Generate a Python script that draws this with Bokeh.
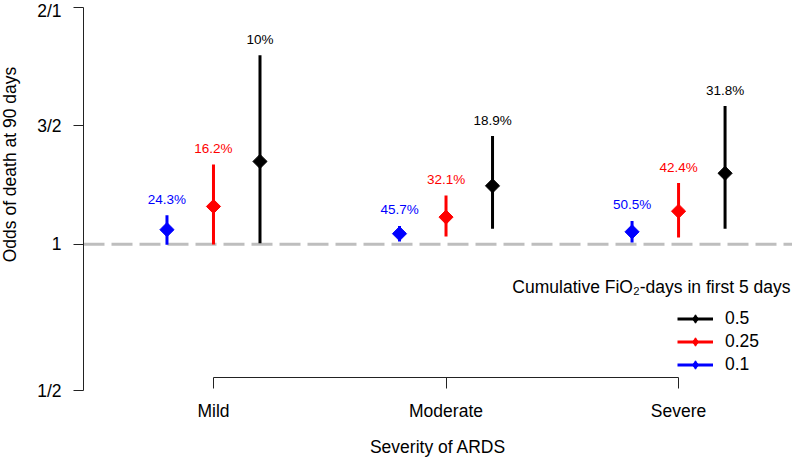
import numpy as np
from bokeh.plotting import figure
from bokeh.models import (Range1d, FixedTicker, Span, Label, Legend, LegendItem,
                          LinearAxis)
from bokeh.embed import file_html
from bokeh.resources import INLINE
from bokeh.core.properties import value

# ---- data ----
categories = ["Mild", "Moderate", "Severe"]
cat_pos = [1, 2, 3]
levels = ["0.5", "0.25", "0.1"]
colors = ["#000000", "#FF0000", "#0000FF"]
dodge = [0.2, 0.0, -0.2]

or_05 = [1.350, 1.247, 1.300]
lo_05 = [1.005, 1.066, 1.066]
hi_05 = [1.798, 1.457, 1.584]
pct_05 = ["10%", "18.9%", "31.8%"]

or_025 = [1.160, 1.115, 1.140]
lo_025 = [0.999, 1.033, 1.029]
hi_025 = [1.337, 1.206, 1.259]
pct_025 = ["16.2%", "32.1%", "42.4%"]

or_01 = [1.062, 1.045, 1.053]
lo_01 = [0.998, 1.012, 1.008]
hi_01 = [1.123, 1.078, 1.099]
pct_01 = ["24.3%", "45.7%", "50.5%"]

ytick_vals = [0.383, 1.0, 1.5, 2.0]
ytick_labels = ["1/2", "1", "3/2", "2/1"]

est = [or_05, or_025, or_01]
lows = [lo_05, lo_025, lo_01]
highs = [hi_05, hi_025, hi_01]
pcts = [pct_05, pct_025, pct_01]

FONT = "Liberation Sans"
FS = "17.5px"
AX = "#222222"

p = figure(width=792, height=459,
           x_range=Range1d(0.441, 3.49), y_range=Range1d(0.383, 2.0),
           output_backend="svg", toolbar_location=None,
           min_border_left=83, min_border_right=0,
           min_border_top=7, min_border_bottom=67)
p.xgrid.visible = False
p.ygrid.visible = False
p.outline_line_color = None

# y axis
p.yaxis.ticker = FixedTicker(ticks=ytick_vals)
p.yaxis.major_label_overrides = {v: l for v, l in zip(ytick_vals, ytick_labels)}
p.yaxis.minor_tick_line_color = None
p.yaxis.major_tick_in = 0
p.yaxis.major_tick_out = 10
p.yaxis.major_label_standoff = 12
p.yaxis.major_label_text_font = FONT
p.yaxis.major_label_text_font_size = FS
p.yaxis.major_label_text_color = "#000000"
p.yaxis.axis_line_color = AX
p.yaxis.major_tick_line_color = AX

# x axis: labels only (frame bottom)
p.xaxis.ticker = FixedTicker(ticks=cat_pos)
p.xaxis.major_label_overrides = {v: c for v, c in zip(cat_pos, categories)}
p.xaxis.axis_line_color = None
p.xaxis.major_tick_line_color = None
p.xaxis.minor_tick_line_color = None
p.xaxis.major_tick_in = 0
p.xaxis.major_tick_out = 0
p.xaxis.major_label_standoff = 10
p.xaxis.major_label_text_font = FONT
p.xaxis.major_label_text_font_size = FS
p.xaxis.major_label_text_color = "#000000"
p.xaxis.axis_label = "Severity of ARDS"
p.xaxis.axis_label_standoff = 13
p.xaxis.axis_label_text_font = FONT
p.xaxis.axis_label_text_font_size = FS
p.xaxis.axis_label_text_font_style = "normal"
p.xaxis.axis_label_text_color = "#000000"

# x axis bracket (line + ticks), slightly above the frame bottom
bracket = LinearAxis(ticker=FixedTicker(ticks=cat_pos), bounds=(1, 3),
                     fixed_location=0.438,
                     major_label_overrides={v: "" for v in cat_pos},
                     major_tick_in=0, major_tick_out=11,
                     minor_tick_line_color=None,
                     axis_line_color=AX, major_tick_line_color=AX,
                     major_label_text_font_size="1px")
p.add_layout(bracket, "below")

ref = Span(location=1, dimension="width", line_color="#BEBEBE",
           line_width=3, line_dash="21 7", level="underlay")
p.add_layout(ref)

legend_items = []
for lvl, col, dx, e, lo, hi, pc in zip(levels, colors, dodge, est, lows, highs, pcts):
    xs = [c + dx for c in cat_pos]
    seg = p.segment(x0=xs, y0=lo, x1=xs, y1=hi, line_color=col, line_width=3)
    # small diamond hidden under the main marker; used for the legend key
    key = p.scatter(xs, e, marker="diamond", size=8, fill_color=col, line_color=col)
    p.scatter(xs, e, marker="square", angle=np.pi / 4, size=10,
              fill_color=col, line_color=col)
    p.text(xs, hi, text=pc, text_color=col, text_font=value(FONT),
           text_font_size="13.5px", text_align="center", text_baseline="middle",
           y_offset=-16)
    legend_items.append(LegendItem(label=lvl, renderers=[seg, key]))

legend = Legend(items=legend_items, location=(594, 15), orientation="vertical",
                glyph_width=36, glyph_height=21, label_height=21, spacing=2,
                padding=0, margin=0, border_line_color=None,
                background_fill_alpha=0, label_standoff=12,
                label_text_font=FONT, label_text_font_size=FS,
                label_text_color="#000000")
p.add_layout(legend)

p.add_layout(Label(x=707, y=104, x_units="screen", y_units="screen",
                   text="Cumulative FiO\u2082-days in first 5 days",
                   text_align="right", text_baseline="middle",
                   text_font=FONT, text_font_size=FS, text_color="#000000"))

p.add_layout(Label(x=-5, y=226, x_units="screen", y_units="screen",
                   text="Odds of death at 90 days", angle=np.pi / 2,
                   text_align="center", text_baseline="middle",
                   text_font=FONT, text_font_size=FS, text_color="#000000"),
             "left")

open("out.html", "w").write(file_html(p, INLINE))
